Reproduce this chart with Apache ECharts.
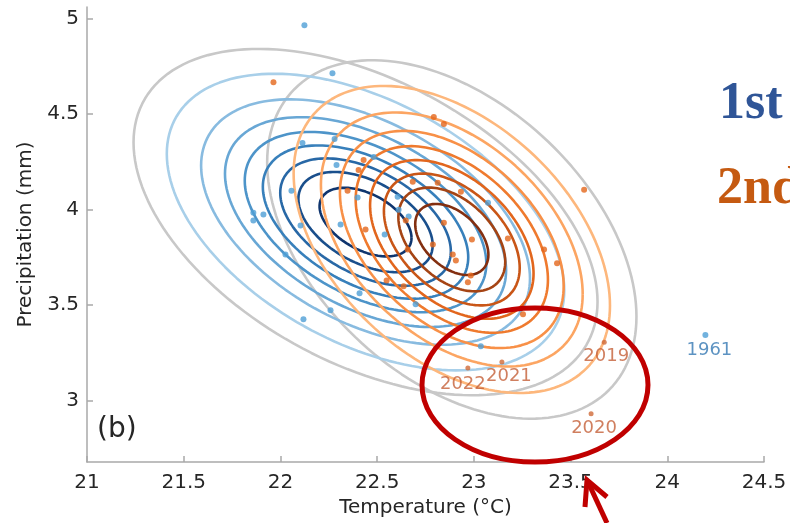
<!DOCTYPE html>
<html>
<head>
<meta charset="utf-8">
<title>Temperature vs Precipitation</title>
<script src="https://cdn.jsdelivr.net/npm/echarts@6/dist/echarts.min.js"></script>
<style>
  html, body { margin: 0; padding: 0; background: #fff; }
  #chart { width: 790px; height: 523px; }
</style>
</head>
<body>
<div id="chart"></div>
<script>
// 轴刻度
var xTicks = [21, 21.5, 22, 22.5, 23, 23.5, 24, 24.5];
var yTicks = [3, 3.5, 4, 4.5, 5];

// 第一时段（蓝色）散点
var bluePts = [
  [22.124, 4.964], [22.269, 4.714], [22.114, 4.349], [22.280, 4.370], [22.290, 4.234],
  [22.482, 4.276], [22.057, 4.099], [21.860, 3.984], [21.860, 3.943], [21.912, 3.974],
  [22.104, 3.917], [22.311, 3.922], [22.026, 3.766], [22.399, 4.063], [22.539, 3.870],
  [22.606, 4.068], [22.611, 4.000], [22.663, 3.964], [22.119, 3.427], [22.259, 3.474],
  [22.409, 3.563], [23.036, 3.286], [23.073, 4.036], [22.699, 3.505]
];
// 第二时段（橙色）散点
var orangePts = [
  [21.964, 4.667], [22.793, 4.484], [22.845, 4.448], [23.570, 4.104], [22.430, 4.260],
  [22.404, 4.208], [22.347, 4.099], [22.440, 3.896], [22.684, 4.146], [22.813, 4.141],
  [22.933, 4.094], [22.648, 3.943], [22.845, 3.932], [22.788, 3.818], [22.658, 3.792],
  [22.990, 3.844], [23.176, 3.849], [23.363, 3.792], [23.430, 3.719], [22.891, 3.766],
  [22.907, 3.734], [22.984, 3.656], [22.969, 3.620], [22.549, 3.630], [22.637, 3.599],
  [23.254, 3.453]
];
// 标注年份的点
var yearNames = ['2019', '2020', '2021', '2022'];
var yearTemp = [23.674, 23.606, 23.145, 22.969];
var yearPrec = [3.307, 2.932, 3.203, 3.172];
var oldYearName = '1961';
var oldYearPt = [24.197, 3.344];

// 二维正态分布拟合参数 [均值x, 均值y, 标准差x, 标准差y, 相关系数]
var blueFit = [22.44, 3.935, 0.49, 0.37, -0.46];
var orangeFit = [22.886, 3.844, 0.39, 0.383, -0.43];
// 等值线：峰值密度的比例（由外到内），外圈灰线为95%区域
var densityLevels = [0.111, 0.222, 0.333, 0.444, 0.556, 0.667, 0.778, 0.889];
var outerProb = 0.95;

var blueColors = ['#a8cfe9', '#88bbe0', '#68a7d5', '#4d94c9', '#3880bb', '#2868a6', '#1a4f8c', '#0f356e'];
var orangeColors = ['#fdb77c', '#fca562', '#f89047', '#ef7a2e', '#e2661d', '#c95617', '#a54414', '#832f10'];
var grayColor = '#c8c8c8';

// 由马氏距离半径生成等值线上的点
function contourPoints(fit, r) {
    var pts = [];
    var n = 160;
    var c = Math.sqrt(1 - fit[4] * fit[4]);
    for (var i = 0; i <= n; i++) {
        var t = 2 * Math.PI * i / n;
        pts.push([
            fit[0] + r * fit[2] * Math.cos(t),
            fit[1] + r * fit[3] * (fit[4] * Math.cos(t) + c * Math.sin(t))
        ]);
    }
    return pts;
}

function lineSeries(data, color) {
    return {
        type: 'line',
        data: data,
        showSymbol: false,
        silent: true,
        lineStyle: { color: color, width: 2.6 },
        z: 2
    };
}

var series = [];
var rOuter = Math.sqrt(-2 * Math.log(1 - outerProb));
series.push(lineSeries(contourPoints(blueFit, rOuter), grayColor));
series.push(lineSeries(contourPoints(orangeFit, rOuter), grayColor));
densityLevels.forEach(function (lv, i) {
    series.push(lineSeries(contourPoints(blueFit, Math.sqrt(-2 * Math.log(lv))), blueColors[i]));
});
densityLevels.forEach(function (lv, i) {
    series.push(lineSeries(contourPoints(orangeFit, Math.sqrt(-2 * Math.log(lv))), orangeColors[i]));
});

series.push({
    type: 'scatter',
    data: bluePts,
    symbolSize: 6,
    itemStyle: { color: '#4f9fd6' },
    z: 5
});
series.push({
    type: 'scatter',
    data: orangePts,
    symbolSize: 6,
    itemStyle: { color: '#e4661c' },
    z: 5
});

var labelOffsets = [[2, 0], [3, 0], [7, 0], [-5, 2]];
series.push({
    type: 'scatter',
    symbolSize: 5,
    itemStyle: { color: '#cf6a38' },
    label: {
        show: true,
        position: 'bottom',
        distance: 3,
        fontFamily: 'DejaVu Sans',
        fontSize: 18,
        color: '#c45f37',
        formatter: function (p) { return p.data.name; }
    },
    data: yearNames.map(function (nm, i) {
        return { name: nm, value: [yearTemp[i], yearPrec[i]], label: { offset: labelOffsets[i] } };
    }),
    z: 5
});
series.push({
    type: 'scatter',
    symbolSize: 6,
    itemStyle: { color: '#4f9fd6' },
    label: {
        show: true,
        position: 'bottom',
        distance: 3,
        offset: [4, 0],
        fontFamily: 'DejaVu Sans',
        fontSize: 18,
        color: '#3478b3',
        formatter: function (p) { return p.data.name; }
    },
    data: [{ name: oldYearName, value: oldYearPt }],
    z: 5
});

var axisColor = '#a9a9a9';
var textColor = '#262626';

var option = {
    animation: false,
    grid: { left: 87, right: 26, top: 7, bottom: 61 },
    xAxis: {
        type: 'value',
        min: xTicks[0],
        max: xTicks[xTicks.length - 1],
        interval: 0.5,
        name: 'Temperature (°C)',
        nameLocation: 'middle',
        nameGap: 32,
        nameTextStyle: { fontFamily: 'DejaVu Sans', fontSize: 20, color: textColor },
        axisLine: { lineStyle: { color: axisColor, width: 1.5 } },
        axisTick: { inside: true, length: 6, lineStyle: { color: axisColor, width: 1.5 } },
        axisLabel: { fontFamily: 'DejaVu Sans', fontSize: 20, color: textColor, margin: 11 },
        splitLine: { show: false }
    },
    yAxis: {
        type: 'value',
        min: 2.68,
        max: 5.06,
        name: 'Precipitation (mm)',
        nameLocation: 'middle',
        nameGap: 47,
        nameTextStyle: { fontFamily: 'DejaVu Sans', fontSize: 20, color: textColor },
        axisLine: { show: true, lineStyle: { color: axisColor, width: 1.5 } },
        axisTick: { show: true, inside: true, length: 6, customValues: yTicks, lineStyle: { color: axisColor, width: 1.5 } },
        axisLabel: { fontFamily: 'DejaVu Sans', fontSize: 20, color: textColor, margin: 8, customValues: yTicks },
        splitLine: { show: false }
    },
    series: series,
    graphic: [
        {
            type: 'text', left: 97, top: 416,
            style: { text: '(b)', font: '28px "DejaVu Sans"', fill: textColor }
        },
        {
            type: 'text', x: 719, y: 105,
            style: { text: '1st', font: 'bold 52px "Liberation Serif"', fill: '#2f5597', textVerticalAlign: 'middle' }
        },
        {
            type: 'text', x: 717, y: 190,
            style: { text: '2nd', font: 'bold 52px "Liberation Serif"', fill: '#c55a11', textVerticalAlign: 'middle' }
        },
        {
            type: 'ellipse',
            shape: { cx: 535, cy: 385, rx: 113, ry: 77 },
            style: { fill: 'none', stroke: '#c00000', lineWidth: 5 },
            z: 100
        },
        {
            type: 'polyline',
            shape: { points: [[607, 523], [588, 482]] },
            style: { stroke: '#c00000', lineWidth: 5, fill: null },
            z: 100
        },
        {
            type: 'polyline',
            shape: { points: [[585, 507], [587, 480], [607, 497]] },
            style: { stroke: '#c00000', lineWidth: 5, fill: null },
            z: 100
        }
    ]
};

var myChart = echarts.init(document.getElementById('chart'), null, { renderer: 'canvas' });
myChart.setOption(option);
</script>
</body>
</html>
